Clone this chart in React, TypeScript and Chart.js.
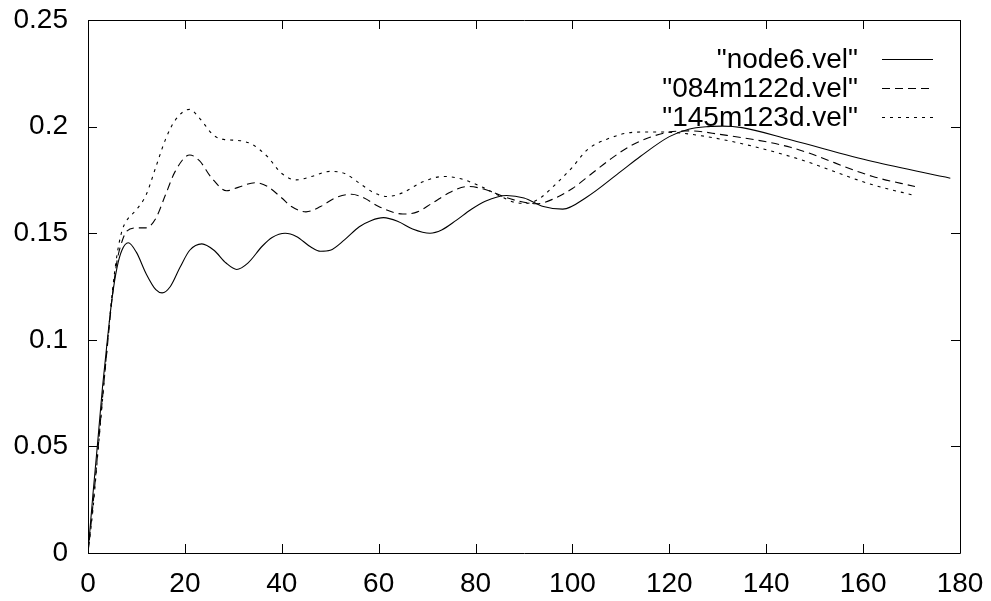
import React, { useEffect, useRef } from "react";
import { Chart, registerables } from "chart.js";

Chart.register(...registerables);

const seriesLabels = ['"node6.vel"', '"084m122d.vel"', '"145m123d.vel"'];

const xTicks = [0, 20, 40, 60, 80, 100, 120, 140, 160, 180];
const yTicks = [0, 0.05, 0.1, 0.15, 0.2, 0.25];

const node6X = [0, 1, 2, 3, 4, 5, 6, 7, 8.3, 10, 12, 14, 15.3, 17, 19, 21, 23.5, 26, 28.5, 30.7, 33, 36, 38, 40.7, 43, 46, 48, 50, 53, 56, 58.5, 61, 64, 67, 70.6, 73, 76, 79, 82, 86.4, 90, 94, 98, 103, 110, 114, 120, 124, 128, 131, 135, 145, 162, 178];
const node6Y = [0, 0.027, 0.052, 0.078, 0.1, 0.12, 0.134, 0.142, 0.1455, 0.141, 0.131, 0.1235, 0.122, 0.125, 0.134, 0.142, 0.145, 0.142, 0.136, 0.133, 0.136, 0.144, 0.148, 0.15, 0.1485, 0.1435, 0.1415, 0.142, 0.147, 0.153, 0.156, 0.1573, 0.1555, 0.152, 0.15, 0.1515, 0.156, 0.161, 0.165, 0.1677, 0.1665, 0.1625, 0.1613, 0.167, 0.179, 0.186, 0.1953, 0.1988, 0.2, 0.2002, 0.1995, 0.1938, 0.1836, 0.1758];

const d084X = [0, 1, 2, 3, 4, 5, 6, 7, 8, 10, 12, 14, 16, 18, 21, 23, 25.5, 28.6, 31, 34.5, 37, 40, 42, 45, 48, 51, 54.4, 57, 60, 65, 68, 71, 75, 78.5, 82, 86, 89, 92.6, 96, 100, 104, 108, 112, 116, 120, 124.3, 130, 145, 162, 170.7];
const d084Y = [0, 0.022, 0.047, 0.073, 0.097, 0.12, 0.137, 0.146, 0.151, 0.1525, 0.1525, 0.157, 0.168, 0.179, 0.1867, 0.184, 0.176, 0.1699, 0.1715, 0.1737, 0.172, 0.1665, 0.1625, 0.16, 0.1625, 0.1665, 0.1683, 0.1665, 0.1625, 0.159, 0.16, 0.164, 0.1695, 0.1719, 0.1705, 0.167, 0.165, 0.1638, 0.166, 0.171, 0.178, 0.185, 0.191, 0.195, 0.1974, 0.198, 0.1965, 0.1903, 0.1766, 0.1719];

const d145X = [0, 1, 2, 3, 4, 5, 6, 7, 8, 10, 12, 14, 16, 18, 21, 23, 25.9, 28, 31.4, 34, 37, 40, 43, 46, 50, 53, 56, 59, 61.7, 65, 69, 73.4, 77, 81, 85, 88, 90.5, 93, 97, 100, 103, 107, 113, 118, 127.7, 145, 162, 171];
const d145Y = [0, 0.02, 0.046, 0.072, 0.098, 0.122, 0.14, 0.151, 0.156, 0.161, 0.168, 0.181, 0.194, 0.203, 0.2081, 0.204, 0.196, 0.194, 0.1934, 0.1915, 0.186, 0.178, 0.175, 0.1765, 0.179, 0.178, 0.1735, 0.169, 0.1672, 0.169, 0.174, 0.1766, 0.1755, 0.172, 0.1675, 0.1645, 0.164, 0.166, 0.174, 0.181, 0.189, 0.194, 0.1974, 0.1975, 0.1953, 0.186, 0.1727, 0.1675];

const dashPatterns: number[][] = [[], [8, 5], [3, 5]];

const FONT = "'Liberation Sans', Arial, sans-serif";

function zip(xs: number[], ys: number[]) {
  return xs.map((x, i) => ({ x, y: ys[i] }));
}

function clearPadding(s: any) {
  s.paddingTop = 0;
  s.paddingBottom = 0;
  s.paddingLeft = 0;
  s.paddingRight = 0;
}

const framePlugin = {
  id: "frameTicks",
  afterDraw(chart: any) {
    const ctx = chart.ctx;
    const { left, right, top, bottom } = chart.chartArea;
    const xs = chart.scales.x;
    const ys = chart.scales.y;
    const tl = 9;
    ctx.save();
    ctx.strokeStyle = "#000";
    ctx.lineWidth = 1;
    ctx.beginPath();
    ctx.rect(Math.round(left) + 0.5, Math.round(top) + 0.5, Math.round(right - left), Math.round(bottom - top));
    ctx.stroke();
    ctx.beginPath();
    xTicks.forEach((v) => {
      const px = Math.round(xs.getPixelForValue(v)) + 0.5;
      ctx.moveTo(px, bottom);
      ctx.lineTo(px, bottom - tl);
      ctx.moveTo(px, top);
      ctx.lineTo(px, top + tl);
    });
    yTicks.forEach((v) => {
      const py = Math.round(ys.getPixelForValue(v)) + 0.5;
      ctx.moveTo(left, py);
      ctx.lineTo(left + tl, py);
      ctx.moveTo(right, py);
      ctx.lineTo(right - tl, py);
    });
    ctx.stroke();

    // legend (gnuplot style)
    const textRight = 858;
    const lineX0 = 882;
    const lineX1 = 933;
    const rows = [59.5, 88.5, 117.5];
    ctx.font = `28px ${FONT}`;
    ctx.fillStyle = "#000";
    ctx.textAlign = "right";
    ctx.textBaseline = "middle";
    seriesLabels.forEach((lab, i) => {
      ctx.fillText(lab, textRight, rows[i] + 1);
      ctx.beginPath();
      ctx.setLineDash(dashPatterns[i]);
      ctx.lineWidth = 1.2;
      ctx.moveTo(lineX0, rows[i]);
      ctx.lineTo(lineX1, rows[i]);
      ctx.stroke();
    });
    ctx.setLineDash([]);
    ctx.restore();
  },
};

export default function App() {
  const ref = useRef<HTMLCanvasElement | null>(null);
  useEffect(() => {
    if (!ref.current) return;
    const series = [zip(node6X, node6Y), zip(d084X, d084Y), zip(d145X, d145Y)];
    const chart = new Chart(ref.current, {
      type: "line",
      data: {
        datasets: series.map((d, i) => ({
          label: seriesLabels[i],
          data: d,
          borderColor: "#000",
          borderWidth: 1.1,
          borderDash: dashPatterns[i],
          pointRadius: 0,
          fill: false,
          cubicInterpolationMode: "monotone" as const,
        })),
      },
      options: {
        animation: false,
        responsive: true,
        maintainAspectRatio: false,
        layout: { padding: { left: 0, top: 20, right: 31, bottom: 0 } },
        plugins: { legend: { display: false }, tooltip: { enabled: false } },
        scales: {
          x: {
            type: "linear",
            min: 0,
            max: 180,
            afterFit: (s: any) => { s.height = 48; clearPadding(s); },
            afterBuildTicks: (s: any) => { s.ticks = xTicks.map((v) => ({ value: v })); },
            grid: { display: false, drawTicks: false },
            border: { display: false },
            ticks: {
              color: "#000",
              font: { family: FONT, size: 28 },
              padding: 14,
              maxRotation: 0,
              autoSkip: false,
            },
          },
          y: {
            type: "linear",
            min: 0,
            max: 0.25,
            afterFit: (s: any) => { s.width = 88; clearPadding(s); },
            afterBuildTicks: (s: any) => { s.ticks = yTicks.map((v) => ({ value: v })); },
            grid: { display: false, drawTicks: false },
            border: { display: false },
            ticks: {
              color: "#000",
              font: { family: FONT, size: 28 },
              padding: 20,
              autoSkip: false,
              callback: (v: any) => String(+Number(v).toFixed(2)),
            },
          },
        },
      },
      plugins: [framePlugin],
    });
    return () => chart.destroy();
  }, []);
  return (
    <div style={{ position: "absolute", left: 0, top: 0, width: 991, height: 601, background: "#fff" }}>
      <canvas ref={ref} />
    </div>
  );
}
